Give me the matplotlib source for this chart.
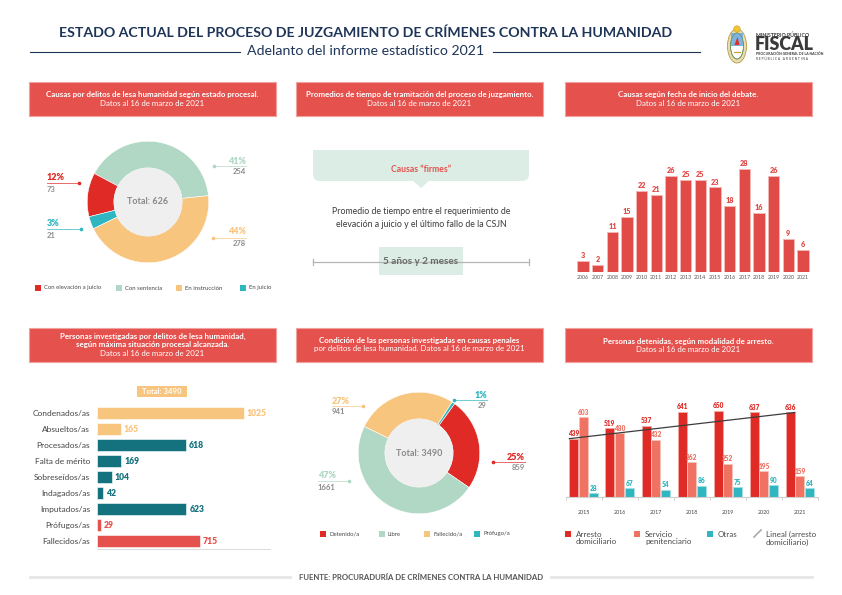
import matplotlib
matplotlib.use('Agg')
import matplotlib.pyplot as plt
from matplotlib.patches import Rectangle, FancyBboxPatch, Polygon, Circle, Ellipse
import numpy as np

plt.rcParams['font.family'] = ['Lato', 'DejaVu Sans']

W, H = 842, 595

# ---------------- data ----------------
title = 'ESTADO ACTUAL DEL PROCESO DE JUZGAMIENTO DE CRÍMENES CONTRA LA HUMANIDAD'
subtitle = 'Adelanto del informe estadístico 2021'
footer = 'FUENTE: PROCURADURÍA DE CRÍMENES CONTRA LA HUMANIDAD'
fecha = 'Datos al 16 de marzo de 2021'

# panel 1
estado_labels = ['Con elevación a juicio', 'Con sentencia', 'En instrucción', 'En juicio']
estado_values = [73, 254, 278, 21]
estado_pct = [12, 41, 44, 3]
estado_total = 626

# panel 2
firmes_title = 'Causas “firmes”'
firmes_text = 'Promedio de tiempo entre el requerimiento de\nelevación a juicio y el último fallo de la CSJN'
firmes_value = '5 años y 2 meses'

# panel 3
debate_years = ['2006', '2007', '2008', '2009', '2010', '2011', '2012', '2013',
                '2014', '2015', '2016', '2017', '2018', '2019', '2020', '2021']
debate_counts = [3, 2, 11, 15, 22, 21, 26, 25, 25, 23, 18, 28, 16, 26, 9, 6]

# panel 4
situacion_labels = ['Condenados/as', 'Absueltos/as', 'Procesados/as', 'Falta de mérito',
                    'Sobreseídos/as', 'Indagados/as', 'Imputados/as', 'Prófugos/as', 'Fallecidos/as']
situacion_values = [1025, 165, 618, 169, 104, 42, 623, 29, 715]
situacion_grupo = [0, 0, 1, 1, 1, 1, 1, 2, 2]
situacion_total = 3490

# panel 5
condicion_labels = ['Detenido/a', 'Libre', 'Fallecido/a', 'Prófugo/a']
condicion_values = [859, 1661, 941, 29]
condicion_pct = [25, 47, 27, 1]
condicion_total = 3490

# panel 6
arresto_years = ['2015', '2016', '2017', '2018', '2019', '2020', '2021']
arresto_domiciliario = [439, 519, 537, 641, 650, 637, 636]
servicio_penitenciario = [603, 480, 432, 262, 252, 195, 159]
otras = [28, 67, 54, 86, 75, 90, 64]
arresto_legend = ['Arresto\ndomiciliario', 'Servicio\npenitenciario', 'Otras', 'Lineal (arresto\ndomiciliario)']

# ---------------- styles ----------------
NAVY = '#1e3558'
HRED = '#e5524e'
RED = '#e02a25'
GREEN = '#b1d8c4'
ORANGE = '#f8c57f'
TEAL = '#2fb6c0'
DTEAL = '#13727e'
SALMON = '#ef7262'
GRAY = '#8d8d8d'
DGRAY = '#4a4a4a'
MINT = '#dcede6'

fig = plt.figure(figsize=(W / 100, H / 100), dpi=100)
fig.patch.set_facecolor('white')
bg = fig.add_axes([0, 0, 1, 1])
bg.set_xlim(0, W)
bg.set_ylim(H, 0)
bg.axis('off')


def rect(x0, y0, x1, y1):
    return [x0 / W, 1 - y1 / H, (x1 - x0) / W, (y1 - y0) / H]


# ---------------- header ----------------
bg.text(366, 33, title, ha='center', va='center', fontsize=10.2, fontweight='bold', color=NAVY)
bg.text(366, 51, subtitle, ha='center', va='center', fontsize=10.2, color=NAVY)
bg.plot([30, 240], [52, 52], color=NAVY, lw=0.8)
bg.plot([493, 700], [52, 52], color=NAVY, lw=0.8)

# logo
bg.add_patch(Ellipse((737, 46), 19, 34, fc='#e9dcae', ec='#b59a4a', lw=0.6))
bg.add_patch(Ellipse((737, 46), 13, 26, fc='white', ec='#6a8f5a', lw=0.5))
bg.add_patch(Rectangle((730.6, 33.2), 12.8, 12.8, fc='#7fb2de', ec='none'))
bg.add_patch(Ellipse((737, 46), 13, 26, fc='none', ec='#6a8f5a', lw=0.5))
bg.add_patch(Circle((737, 29), 3.2, fc='#f2c531', ec='#c99b1f', lw=0.4))
bg.add_patch(Polygon([[734.5, 45], [739.5, 45], [737.5, 37]], closed=True, fc='#d9302a', ec='none'))
bg.plot([734, 740], [52, 52], color='#c99b1f', lw=0.8)
bg.text(756, 35, 'MINISTERIO PÚBLICO', fontsize=3.8, fontweight='bold', color='#3a3a3a', va='center')
bg.text(755, 45, 'FISCAL', fontsize=12.8, fontweight='heavy', color='#3a3a3a', va='center')
bg.text(756, 54, 'PROCURACIÓN GENERAL DE LA NACIÓN', fontsize=2.5, fontweight='bold', color='#3a3a3a', va='center')
bg.text(756, 59, 'R E P Ú B L I C A   A R G E N T I N A', fontsize=2.3, color='#3a3a3a', va='center')

# ---------------- footer ----------------
bg.text(421, 577, footer, ha='center', va='center', fontsize=5.6, fontweight='bold', color='#555555')
bg.plot([30, 290], [577, 577], color='#e6e6e6', lw=2)
bg.plot([551, 812], [577, 577], color='#e6e6e6', lw=2)


# ---------------- panel header boxes ----------------
def header(x0, x1, y0, y1, lines, ys):
    bg.add_patch(Rectangle((x0, y0), x1 - x0, y1 - y0, fc=HRED, ec='#f1a29e', lw=0.8))
    cx = (x0 + x1) / 2
    for i, (t, y) in enumerate(zip(lines, ys)):
        bg.text(cx, y, t, ha='center', va='center', color='white', fontsize=5.7,
                fontweight='bold' if i < len(lines) - 1 else 'normal')


header(29, 276, 82, 116, ['Causas por delitos de lesa humanidad según estado procesal.', fecha], [94, 103])
header(296, 543, 82, 116, ['Promedios de tiempo de tramitación del proceso de juzgamiento.', fecha], [94, 103])
header(565, 812, 82, 116, ['Causas según fecha de inicio del debate.', fecha], [94, 103])
header(29, 276, 328, 362, ['Personas investigadas por delitos de lesa humanidad,',
                           'según máxima situación procesal alcanzada.', fecha], [336, 344.5, 353])
header(296, 543, 328, 362, ['Condición de las personas investigadas en causas penales',
                            'por delitos de lesa humanidad. Datos al 16 de marzo de 2021'], [340, 349])
header(565, 812, 328, 362, ['Personas detenidas, según modalidad de arresto.', fecha], [341, 349.5])


# ---------------- donut helper ----------------
def donut(cx, cy, r, values, colors, order, startangle, counterclock, total):
    ax = fig.add_axes(rect(cx - r, cy - r, cx + r, cy + r))
    vals = [values[i] for i in order]
    cols = [colors[i] for i in order]
    ax.pie(vals, colors=cols, startangle=startangle, counterclock=counterclock, radius=1,
           wedgeprops=dict(width=0.44, edgecolor='white', linewidth=0.4))
    ax.add_patch(Circle((0, 0), 0.565, fc='#efefef', ec='none'))
    ax.text(0, 0, f'Total: {total}', ha='center', va='center', fontsize=6.5, fontweight='bold', color='#8a8a8a')
    ax.set_xlim(-1.02, 1.02)
    ax.set_ylim(-1.02, 1.02)
    ax.axis('off')
    return ax


def callout(x, ypct, pct, count, color, lx0, lx1, ly, dot_left, ha):
    bg.plot([lx0, lx1], [ly, ly], color=color, lw=0.6, alpha=0.8)
    bg.plot([lx0 if dot_left else lx1], [ly], marker='o', ms=1.6, color=color)
    bg.text(x, ypct, f'{pct}%', ha=ha, va='center', fontsize=6.5, fontweight='heavy', color=color)
    bg.text(x, ypct + 11, f'{count}', ha=ha, va='center', fontsize=5.5, fontweight='bold', color=GRAY)


def legend_row(items, colors, xs, y, fs=4.3):
    for t, c, x in zip(items, colors, xs):
        bg.add_patch(Rectangle((x - 3, y - 3), 6, 6, fc=c, ec='none'))
        bg.text(x + 6, y, t, va='center', ha='left', fontsize=fs, color=DGRAY)


# ---------------- panel 1 ----------------
c1 = [RED, GREEN, ORANGE, TEAL]
donut(148, 202, 62, estado_values, c1, [1, 0, 3, 2], 6, True, estado_total)
callout(246, 161, estado_pct[1], estado_values[1], GREEN, 214, 246, 165.5, True, 'right')
callout(246, 232, estado_pct[2], estado_values[2], ORANGE, 213, 246, 238, True, 'right')
callout(47, 178, estado_pct[0], estado_values[0], RED, 47, 79, 183, False, 'left')
callout(47, 224, estado_pct[3], estado_values[3], TEAL, 47, 81, 229, False, 'left')
legend_row(estado_labels, c1, [38, 119, 179, 243], 288)

# ---------------- panel 2 ----------------
bg.add_patch(FancyBboxPatch((313, 150), 216, 31, boxstyle='round,pad=0,rounding_size=7', fc=MINT, ec='none'))
bg.add_patch(Rectangle((313, 150), 216, 12, fc=MINT, ec='none'))
bg.add_patch(Polygon([[412, 180], [430, 180], [421, 188]], closed=True, fc=MINT, ec='none'))
bg.text(421, 169, firmes_title, ha='center', va='center', fontsize=6.2, fontweight='bold', color=HRED)
bg.text(421, 218, firmes_text, ha='center', va='center', fontsize=6.3, color='#3a3a3a', linespacing=1.6)
bg.plot([313, 529], [262, 262], color='#b5b5b5', lw=0.9)
bg.plot([313, 313], [259, 265], color='#b5b5b5', lw=0.9)
bg.plot([529, 529], [259, 265], color='#b5b5b5', lw=0.9)
bg.add_patch(Rectangle((379, 247), 84, 28, fc=MINT, ec='none'))
bg.text(421, 261.5, firmes_value, ha='center', va='center', fontsize=7.2, fontweight='bold', color='#6a6a6a')

# ---------------- panel 3 ----------------
ax3 = fig.add_axes(rect(575.7, 150, 810.3, 272))
x3 = np.arange(len(debate_counts))
ax3.bar(x3, debate_counts, width=0.76, color='#e04a47', edgecolor='#f5b7b5', linewidth=0.7)
for xi, v in zip(x3, debate_counts):
    ax3.text(xi, v + 0.5, str(v), ha='center', va='bottom', fontsize=5.2, fontweight='heavy', color='#e04a47')
ax3.set_xlim(-0.5, len(debate_counts) - 0.5)
ax3.set_ylim(0, 122 / 3.68)
ax3.set_xticks(x3)
ax3.set_xticklabels(debate_years, fontsize=3.8, color='#555555')
ax3.tick_params(axis='x', length=0, pad=2)
ax3.set_yticks([])
for s in ax3.spines.values():
    s.set_visible(False)
ax3.patch.set_alpha(0)

# ---------------- panel 4 ----------------
ax4 = fig.add_axes(rect(97, 405, 270, 549))
y4 = np.arange(len(situacion_values))
gcol = [ORANGE, DTEAL, HRED]
cols4 = [gcol[g] for g in situacion_grupo]
ax4.barh(y4, situacion_values, height=0.7, color=cols4, edgecolor='white', linewidth=0.4)
for yi, v, c in zip(y4, situacion_values, cols4):
    ax4.text(v + 20, yi, str(v), ha='left', va='center', fontsize=6.2, fontweight='heavy', color=c)
ax4.set_xlim(0, 173 / 0.1435)
ax4.set_ylim(len(situacion_values) - 0.5, -0.5)
ax4.set_yticks(y4)
ax4.set_yticklabels(situacion_labels, fontsize=6, color='#444444')
ax4.tick_params(axis='y', length=0, pad=5)
ax4.set_xticks([])
for k in ['top', 'right', 'left']:
    ax4.spines[k].set_visible(False)
ax4.spines['bottom'].set_color('#dddddd')
ax4.spines['bottom'].set_linewidth(0.8)
ax4.patch.set_alpha(0)
bg.add_patch(Rectangle((137, 386), 50, 11, fc=ORANGE, ec='none'))
bg.text(162, 391.5, f'Total: {situacion_total}', ha='center', va='center', fontsize=5.5,
        fontweight='bold', color='white')

# ---------------- panel 5 ----------------
c5 = [RED, GREEN, ORANGE, TEAL]
donut(419, 453, 62, condicion_values, c5, [3, 0, 1, 2], 57, False, condicion_total)
callout(487, 395, condicion_pct[3], condicion_values[3], TEAL, 454, 487, 400, True, 'right')
callout(332, 401, condicion_pct[2], condicion_values[2], ORANGE, 332, 363, 406, False, 'left')
callout(525, 457, condicion_pct[0], condicion_values[0], RED, 493, 525, 462, True, 'right')
callout(318, 476, condicion_pct[1], condicion_values[1], GREEN, 318, 349, 481, False, 'left')
legend_row(condicion_labels, c5, [323, 382, 427, 477], 534)

# ---------------- panel 6 ----------------
ax6 = fig.add_axes(rect(565.6, 400, 818, 497))
x6 = np.arange(len(arresto_years))
bw, off = 0.25, 0.27
series = [(arresto_domiciliario, RED, '#f3aaa6', RED),
          (servicio_penitenciario, SALMON, '#f8c3bb', SALMON),
          (otras, TEAL, '#a5e0e4', TEAL)]
for k, (vals, c, ec, tc) in enumerate(series):
    xs = x6 + (k - 1) * off
    ax6.bar(xs, vals, width=bw, color=c, edgecolor=ec, linewidth=0.6)
    for xi, v in zip(xs, vals):
        ax6.text(xi, v + 10, str(v), ha='center', va='bottom', fontsize=4.7, fontweight='heavy', color=tc)
# linear line for arresto domiciliario (first to last value)
ax6.plot([x6[0] - off - bw / 2, x6[-1] - off + bw / 2],
         [arresto_domiciliario[0], arresto_domiciliario[-1]], color='#3d3d3d', lw=0.9, zorder=5)
ax6.set_xlim(-0.5, len(arresto_years) - 0.5)
ax6.set_ylim(0, 730)
ax6.set_xticks(x6)
ax6.set_xticklabels(arresto_years, fontsize=3.9, color='#444444')
ax6.tick_params(axis='x', which='major', length=0, pad=9)
ax6.set_xticks(np.arange(-0.5, len(arresto_years)), minor=True)
ax6.tick_params(axis='x', which='minor', length=2.5, color='#c8c8c8', width=0.6)
ax6.set_yticks([])
for k in ['top', 'right', 'left']:
    ax6.spines[k].set_visible(False)
ax6.spines['bottom'].set_color('#d0d0d0')
ax6.spines['bottom'].set_linewidth(0.8)
ax6.patch.set_alpha(0)

lx = [568, 637, 710]
for t, c, x in zip(arresto_legend[:3], [RED, SALMON, TEAL], lx):
    bg.add_patch(Rectangle((x - 3, 531), 6, 6, fc=c, ec='none'))
    bg.text(x + 8, 531, t, va='top', ha='left', fontsize=5.8, color=DGRAY, linespacing=1.05)
bg.plot([754, 761], [537, 530], color='#aaaaaa', lw=1.2)
bg.text(766, 531, arresto_legend[3], va='top', ha='left', fontsize=5.8, color=DGRAY, linespacing=1.05)

fig.savefig('out.png', dpi=100, facecolor='white')
